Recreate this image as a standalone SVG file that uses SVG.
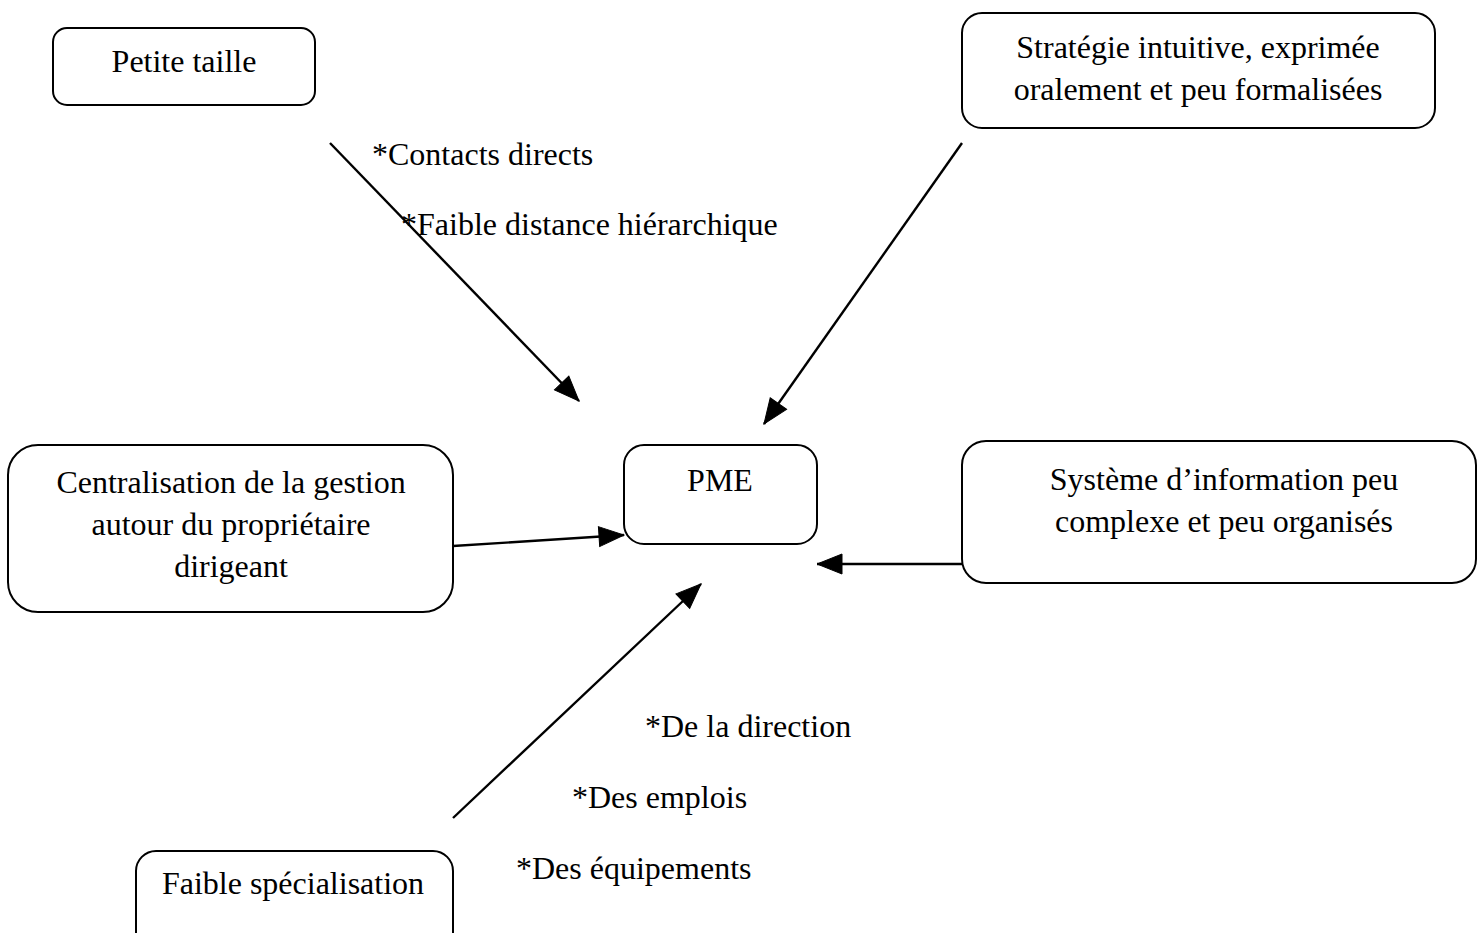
<svg xmlns="http://www.w3.org/2000/svg" width="1477" height="933" viewBox="0 0 1477 933">
<style>
.box{fill:#fff;stroke:#000;stroke-width:2}
.t{font-family:"Liberation Serif","Times New Roman",serif;font-size:32px;fill:#000}
.c{text-anchor:middle}
.conn line{stroke:#000;stroke-width:2.4;fill:none}
.head{fill:#000;stroke:#000;stroke-width:1}
</style>
<defs>
<marker id="ah" markerUnits="userSpaceOnUse" markerWidth="28" markerHeight="22" refX="26" refY="11" orient="auto" viewBox="0 0 28 22">
<path class="head" d="M1,1 L26,11 L1,21 z"/>
</marker>
</defs>
<rect width="1477" height="933" fill="#fff"/>
<g id="petite-taille">
<rect class="box" x="53" y="28" width="262" height="77" rx="14"/>
<text class="t c" x="184" y="72">Petite taille</text>
</g>
<g id="strategie">
<rect class="box" x="962" y="13" width="473" height="115" rx="20"/>
<text class="t c" x="1198" y="58">Stratégie intuitive, exprimée</text>
<text class="t c" x="1198" y="100">oralement et peu formalisées</text>
</g>
<g id="centralisation">
<rect class="box" x="8" y="445" width="445" height="167" rx="30"/>
<text class="t c" x="231" y="493">Centralisation de la gestion</text>
<text class="t c" x="231" y="535">autour du propriétaire</text>
<text class="t c" x="231" y="577">dirigeant</text>
</g>
<g id="pme">
<rect class="box" x="624" y="445" width="193" height="99" rx="20"/>
<text class="t c" x="720" y="491">PME</text>
</g>
<g id="systeme">
<rect class="box" x="962" y="441" width="514" height="142" rx="24"/>
<text class="t c" x="1224" y="490">Système d’information peu</text>
<text class="t c" x="1224" y="532">complexe et peu organisés</text>
</g>
<g id="faible-specialisation">
<rect class="box" x="136" y="851" width="317" height="110" rx="20"/>
<text class="t c" x="293" y="894">Faible spécialisation</text>
</g>
<g id="labels">
<text class="t" x="372" y="165">*Contacts directs</text>
<text class="t" x="401" y="235">*Faible distance hiérarchique</text>
<text class="t" x="645" y="737">*De la direction</text>
<text class="t" x="572" y="808">*Des emplois</text>
<text class="t" x="516" y="879">*Des équipements</text>
</g>
<g id="connectors" class="conn">
<line x1="330" y1="143" x2="579" y2="401" marker-end="url(#ah)"/>
<line x1="962" y1="143" x2="764" y2="424" marker-end="url(#ah)"/>
<line x1="453" y1="546" x2="624" y2="535" marker-end="url(#ah)"/>
<line x1="962" y1="564" x2="817" y2="564" marker-end="url(#ah)"/>
<line x1="453" y1="818" x2="701" y2="584" marker-end="url(#ah)"/>
</g>
</svg>
